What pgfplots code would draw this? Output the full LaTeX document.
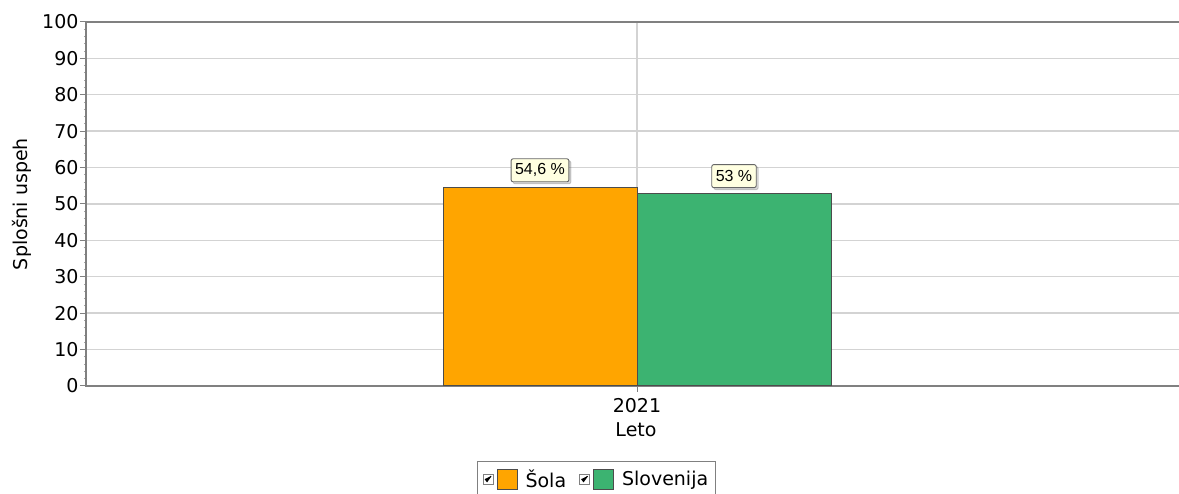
\documentclass[border=0pt]{standalone}
\usepackage{pgfplots}
\pgfplotsset{compat=1.18}
\usepackage{fontspec}
\setmainfont{DejaVu Sans}
\newfontfamily\labfont{Liberation Sans}
\usetikzlibrary{shadows}
\definecolor{barorange}{HTML}{FFA500}
\definecolor{bargreen}{HTML}{3CB371}
\definecolor{gridgray}{HTML}{D3D3D3}
\definecolor{axgray}{HTML}{808080}
\definecolor{tipfill}{HTML}{FFFFE1}
\begin{document}
\begin{tikzpicture}
\useasboundingbox (0,0) rectangle (1179pt,494pt);
\begin{axis}[
  at={(86pt,108pt)}, anchor=south west,
  scale only axis, width=1100pt, height=364pt,
  xmin=86, xmax=1186, ymin=0, ymax=100,
  ytick={0,10,...,100},
  minor y tick num=4,
  xtick={637}, xticklabels={2021},
  xtick pos=bottom, ytick pos=left,
  ymajorgrids, xmajorgrids,
  major grid style={gridgray, line width=1.4pt},
  axis line style={axgray, line width=1.8pt},
  tick style={axgray, line width=1pt},
  major tick length=6pt, minor tick length=2pt,
  minor tick style={axgray!70, line width=1pt},
  tick align=outside,
  y tick label style={font=\fontsize{19}{22}\selectfont, xshift=2pt},
  x tick label style={font=\fontsize{19}{22}\selectfont, yshift=-3pt},
  /pgf/number format/assume math mode=true,
  xlabel={Leto}, ylabel={Splošni uspeh},
  label style={font=\fontsize{19}{22}\selectfont},
  xlabel style={at={(axis description cs:0.5,-0.121)}, anchor=center},
  ylabel style={yshift=4pt},
  ybar, bar width=194, bar shift=0pt,
  point meta=explicit symbolic,
  nodes near coords,
  every node near coord/.style={
    anchor=south, yshift=5pt, font=\labfont\fontsize{16}{18}\selectfont,
    fill=tipfill, draw=black!60, rounded corners=2pt, line width=0.9pt,
    inner xsep=4pt, minimum height=23pt,
    drop shadow={shadow xshift=2pt, shadow yshift=-2pt, opacity=0.3}},
  legend style={at={(0.464,-0.206)}, anchor=north, draw=axgray, line width=1pt,
    font=\fontsize{19}{22}\selectfont, legend columns=2,
    inner xsep=5pt, inner ysep=6pt,
    /tikz/every odd column/.append style={column sep=6pt},
    /tikz/every even column/.append style={column sep=11pt}},
  legend cell align=left,
]
\addplot[fill=barorange, draw=black!70, line width=1pt,
  legend image code/.code={
    \draw[black!50, fill=white, line width=0.8pt] (0pt,-5pt) rectangle (10pt,5pt);
    \draw[black, line width=1pt] (2pt,0pt) -- (4pt,-2.5pt) -- (8pt,3pt);
    \draw[fill=barorange, draw=black!70, line width=1pt] (14pt,-10pt) rectangle (34pt,10pt);
  }] coordinates {(540,54.6) [54,6 \%]};
\addlegendentry{Šola}
\addplot[fill=bargreen, draw=black!70, line width=1pt,
  legend image code/.code={
    \draw[black!50, fill=white, line width=0.8pt] (0pt,-5pt) rectangle (10pt,5pt);
    \draw[black, line width=1pt] (2pt,0pt) -- (4pt,-2.5pt) -- (8pt,3pt);
    \draw[fill=bargreen, draw=black!70, line width=1pt] (14pt,-10pt) rectangle (34pt,10pt);
  }] coordinates {(734,53) [53 \%]};
\addlegendentry{Slovenija}
\end{axis}
\end{tikzpicture}
\end{document}
